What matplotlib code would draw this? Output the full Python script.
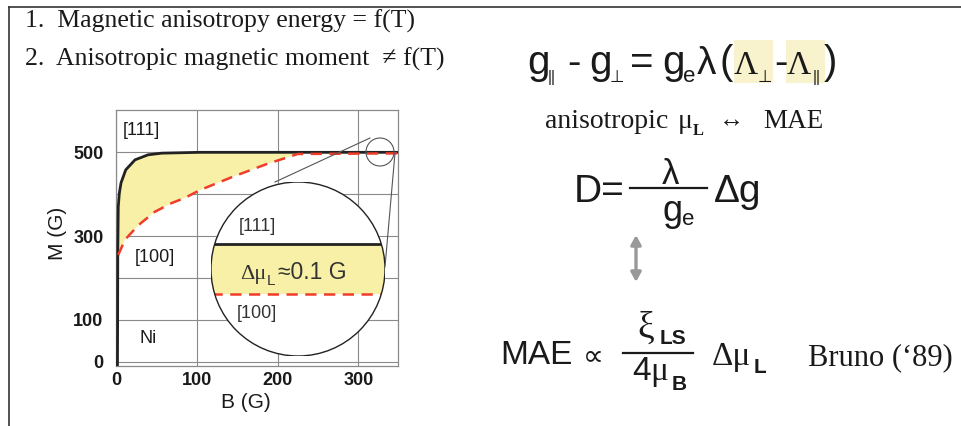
import numpy as np
import matplotlib
matplotlib.use('Agg')
import matplotlib.pyplot as plt
from matplotlib.patches import Circle, Rectangle
from matplotlib.lines import Line2D

# ---------------- data ----------------
B_111 = [1.8, 2.0, 2.2, 2.8, 4.1, 6.2, 12, 23.5, 39.6, 56.6, 104, 349]
M_111 = [-10, 100, 260, 370, 402, 427, 458, 482, 494, 498, 500, 500]
B_100 = [2.8, 11, 27.6, 48, 69, 85, 104, 145, 186.5, 225, 349]
M_100 = [255, 291, 326, 358, 379, 391, 410, 442, 472, 496, 497.5]

x_ticks = [0, 100, 200, 300]
y_ticks = [0, 100, 300, 500]
y_minor = [200, 400]

inset_B = [300, 360]
inset_M111 = [500.0, 500.0]
inset_M100 = [499.9, 499.9]

SANS = ['Liberation Sans', 'DejaVu Sans']
SERIF = ['Liberation Serif', 'DejaVu Serif']
plt.rcParams['font.family'] = SANS

TXT = '#1a1a1a'
YEL = '#f7f0a6'
RED = '#f03c28'
GRID = '#8a8a8a'

fig = plt.figure(figsize=(9.61, 4.26), dpi=100)
W, H = 961, 426

# ---------------- main chart ----------------
L, R, T, Bt = 116, 398, 110, 366
ax = fig.add_axes([L / W, (H - Bt) / H, (R - L) / W, (Bt - T) / H])
ax.set_zorder(1)
ax.set_xlim(0, 349)
ax.set_ylim(-10, 601)

# fill between curves
bx = np.array(B_111); by = np.array(M_111)
rx = np.array(B_100); ry = np.array(M_100)
x_end = 225
mask_r = rx <= x_end
mask_b = (bx >= rx[0]) & (bx <= x_end)
poly_x = np.concatenate([rx[mask_r], [x_end], bx[mask_b][::-1]])
poly_y = np.concatenate([ry[mask_r], [np.interp(x_end, bx, by)], by[mask_b][::-1]])
ax.fill(poly_x, poly_y, color=YEL, lw=0, zorder=1)

ax.plot(B_111, M_111, color='#222222', lw=2.0, zorder=3, solid_capstyle='round')
ax.plot(B_100, M_100, color=RED, lw=1.8, ls=(0, (4.5, 3)), zorder=3)

ax.set_xticks(x_ticks)
ax.set_yticks(y_ticks)
ax.set_yticks(y_minor, minor=True)
ax.grid(True, which='both', color=GRID, lw=0.8, zorder=0)
ax.tick_params(which='both', length=0)
ax.tick_params(axis='y', pad=9)
ax.tick_params(axis='x', pad=4)
for lab in ax.get_xticklabels() + ax.get_yticklabels():
    lab.set_fontsize(13)
    lab.set_fontweight('bold')
    lab.set_color(TXT)
for s in ax.spines.values():
    s.set_color(GRID)
    s.set_linewidth(0.9)
ax.set_axisbelow(True)

ax.set_xlabel('B (G)', fontsize=15, color=TXT)
ax.xaxis.set_label_coords(0.46, -0.105)
ax.set_ylabel('M (G)', fontsize=15, color=TXT)
ax.yaxis.set_label_coords(-0.175, 0.52)

ax.text(31.5, 553, '[111]', fontsize=13, color=TXT, ha='center', va='center', zorder=4)
ax.text(48, 250, '[100]', fontsize=13, color=TXT, ha='center', va='center', zorder=4)
ax.text(39.6, 55, 'Ni', fontsize=13, color=TXT, ha='center', va='center', zorder=4)

# ---------------- overlay (pixel coordinates) ----------------
ax_o = fig.add_axes([0, 0, 1, 1])
ax_o.set_zorder(3)
ax_o.set_xlim(0, W)
ax_o.set_ylim(H, 0)
ax_o.axis('off')

# slide frame
ax_o.add_line(Line2D([9, W], [7, 7], color='#333333', lw=1.2))
ax_o.add_line(Line2D([9, 9], [7, H], color='#333333', lw=1.2))

# magnifier
cx, cy, cr = 298, 269, 87
ax_o.add_patch(Circle((380, 152), 14, fill=False, ec='#555555', lw=0.8))
ax_o.add_line(Line2D([370, 275], [138, 182], color='#555555', lw=0.8))
ax_o.add_line(Line2D([395, 385], [153, 267], color='#555555', lw=0.8))

ax_in = fig.add_axes([(cx - cr) / W, (H - (cy + cr)) / H, 2 * cr / W, 2 * cr / H])
ax_in.set_zorder(4)
ax_in.set_xlim(inset_B[0], inset_B[1])
ax_in.set_ylim(499.776, 500.124)
ax_in.axis('off')
bg = Circle((0.5, 0.5), 0.5, transform=ax_in.transAxes, fc='white', ec='none', zorder=0)
ax_in.add_patch(bg)
clip = Circle((0.5, 0.5), 0.5, transform=ax_in.transAxes, fc='none', ec='none')
ax_in.add_patch(clip)
f = ax_in.fill_between(inset_B, inset_M100, inset_M111, color=YEL, lw=0, zorder=1)
f.set_clip_path(clip)
l1, = ax_in.plot(inset_B, inset_M111, color='#222222', lw=2.0, zorder=2)
l2, = ax_in.plot(inset_B, inset_M100, color=RED, lw=1.8, ls=(0, (4.5, 3)), zorder=2)
l1.set_clip_path(clip); l2.set_clip_path(clip)
ax_in.add_patch(Circle((0.5, 0.5), 0.5, transform=ax_in.transAxes, fc='none', ec='#222222', lw=1.0, zorder=5))
ax_in.text(0.264, 0.747, '[111]', transform=ax_in.transAxes, fontsize=13, color='#333333', ha='center', va='center')
ax_in.text(0.264, 0.247, '[100]', transform=ax_in.transAxes, fontsize=13, color='#333333', ha='center', va='center')
ax_in.text(0.165, 0.445, 'Δμ', transform=ax_in.transAxes, fontsize=16, family=SERIF, color='#333333', ha='left', va='baseline')
ax_in.text(0.318, 0.41, 'L', transform=ax_in.transAxes, fontsize=11, color='#333333', ha='left', va='baseline')
ax_in.text(0.385, 0.445, '≈0.1 G', transform=ax_in.transAxes, fontsize=16.5, color='#333333', ha='left', va='baseline')


def put(x, y, s, size, fam=SANS, weight='normal', color=TXT, **kw):
    ax_o.text(x, y, s, fontsize=size, family=fam, fontweight=weight, color=color,
              ha=kw.pop('ha', 'left'), va=kw.pop('va', 'baseline'), **kw)


# left statements
put(25, 28, '1.  Magnetic anisotropy energy = f(T)', 18.5, SERIF)
put(25, 66, '2.  Anisotropic magnetic moment  ≠ f(T)', 18.5, SERIF)

# equation 1
ax_o.add_patch(Rectangle((734, 40), 39, 43, fc='#f8f3cc', ec='none'))
ax_o.add_patch(Rectangle((786, 40), 39, 43, fc='#f8f3cc', ec='none'))
put(527, 74, 'g', 29)
put(548, 82, '||', 11.5)
put(567, 74, '-', 29)
put(589, 74, 'g', 29)
put(610, 82, '⊥', 12)
put(630, 74, '=', 29)
put(662, 74, 'g', 29)
put(683, 82, 'e', 16)
put(697, 74, 'λ', 28)
put(719, 74, '(', 29)
put(734, 74, 'Λ', 24, SERIF)
put(758, 82, '⊥', 12)
put(774, 74, '-', 29)
put(787, 74, 'Λ', 24, SERIF)
put(813, 82, '||', 11.5)
put(824, 74, ')', 29)

# equation 2
put(545, 128, 'anisotropic', 20, SERIF)
put(678, 128, 'μ', 20, SERIF)
put(693, 135, 'L', 12, SERIF, weight='bold')
put(719, 127, '↔', 18, SERIF)
put(763, 128, 'MAE', 19.5, SERIF)

# equation 3
put(574, 202, 'D=', 28)
ax_o.add_line(Line2D([630, 707], [188, 188], color=TXT, lw=1.6))
put(670, 184, 'λ', 25, ha='center')
put(662, 221, 'g', 26)
put(682, 225, 'e', 16)
put(714, 202, 'Δg', 28)

# arrow
ax_o.annotate('', xy=(636, 282), xytext=(636, 235),
              arrowprops=dict(arrowstyle='<|-|>,head_length=0.55,head_width=0.3', color='#999999', lw=2.4,
                              shrinkA=0, shrinkB=0))

# equation 5
put(500, 364, 'MAE', 24)
put(593, 356, '∝', 21, ['DejaVu Sans'], ha='center', va='center')
ax_o.add_line(Line2D([623, 693], [353, 353], color=TXT, lw=1.6))
put(637, 338, 'ξ', 27, SERIF)
put(660, 344, 'LS', 15, weight='bold')
put(632, 380, '4', 24)
put(650, 380, 'μ', 24, SERIF)
put(672, 390, 'B', 15, weight='bold')
put(712, 365, 'Δμ', 24, SERIF)
put(754, 373, 'L', 15, weight='bold')
put(808, 365, 'Bruno (‘89)', 22, SERIF)

fig.savefig('out.png', dpi=100)
